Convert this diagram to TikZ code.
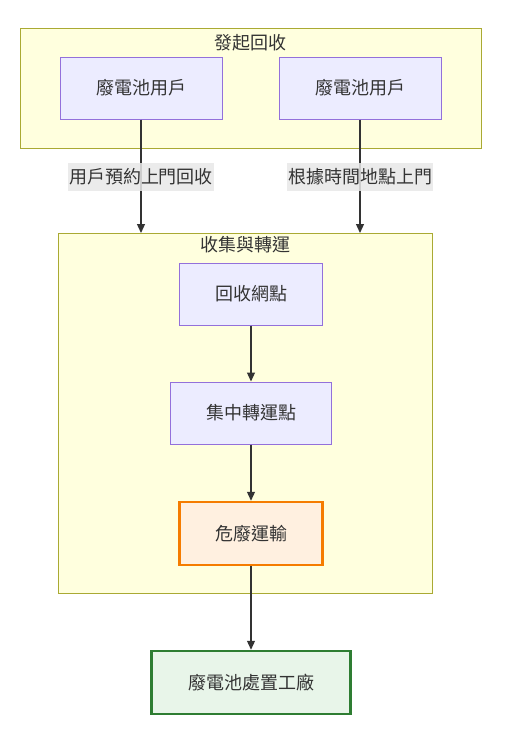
\documentclass[tikz,border=0pt]{standalone}
\usepackage{fontspec}
\setmainfont{Noto Sans CJK TC}
\usetikzlibrary{arrows.meta}
\definecolor{clfill}{HTML}{FFFFDE}
\definecolor{clline}{HTML}{AAAA33}
\definecolor{ndfill}{HTML}{ECECFF}
\definecolor{ndline}{HTML}{9370DB}
\definecolor{txt}{HTML}{333333}
\definecolor{orfill}{HTML}{FFF0E0}
\definecolor{orline}{HTML}{F57C00}
\definecolor{grfill}{HTML}{E8F5E9}
\definecolor{grline}{HTML}{2E7D32}
\definecolor{lblbg}{HTML}{E8E8E8}
\tikzset{
  cluster/.style={draw=clline, fill=clfill, line width=1pt},
  nd/.style={draw=ndline, fill=ndfill, line width=1pt, text=txt, font=\fontsize{18}{21}\selectfont, inner sep=0pt},
  ornd/.style={draw=orline, fill=orfill, line width=2.5pt, text=txt, font=\fontsize{18}{21}\selectfont, inner sep=0pt},
  grnd/.style={draw=grline, fill=grfill, line width=2.5pt, text=txt, font=\fontsize{18}{21}\selectfont, inner sep=0pt},
  ttl/.style={text=txt, font=\fontsize{18}{21}\selectfont, inner sep=0pt},
  lbl/.style={fill=lblbg, fill opacity=0.85, text opacity=1, text=txt, font=\fontsize{18}{21}\selectfont, inner sep=1pt, minimum height=28pt},
  arr/.style={draw=txt, line width=1.2pt, -{Triangle[length=9pt,width=8pt]}},
}
\begin{document}
\begin{tikzpicture}[x=1pt,y=-1pt]
\useasboundingbox (0,0) rectangle (509,732);
% clusters
\draw[cluster] (20,28) rectangle (481,148);
\node[ttl] (t1) at (250.5,43) {發起回收};
\draw[cluster] (58,233) rectangle (432,593);
\node[ttl] (t2) at (245,245) {收集與轉運};
% nodes
\node[nd, minimum width=162pt, minimum height=62pt] (u1) at (141,88) {廢電池用戶};
\node[nd, minimum width=162pt, minimum height=62pt] (u2) at (360,88) {廢電池用戶};
\node[nd, minimum width=143pt, minimum height=62pt] (n1) at (251,294) {回收網點};
\node[nd, minimum width=161pt, minimum height=62pt] (n2) at (251,413) {集中轉運點};
\node[ornd, minimum width=143pt, minimum height=63pt] (n3) at (251,533.5) {危廢運輸};
\node[grnd, minimum width=199pt, minimum height=63pt] (n4) at (251,682.5) {廢電池處置工廠};
\coordinate (c1) at (141,233);
\coordinate (c2) at (360,233);
% edges
\draw[arr] (u1.south) -- (c1);
\draw[arr] (u2.south) -- (c2);
\node[lbl] (l1) at (141,177) {用戶預約上門回收};
\node[lbl] (l2) at (360,177) {根據時間地點上門};
\draw[arr] (n1) -- (n2);
\draw[arr] (n2) -- (n3);
\draw[arr] (n3) -- (n4);
\end{tikzpicture}
\end{document}
